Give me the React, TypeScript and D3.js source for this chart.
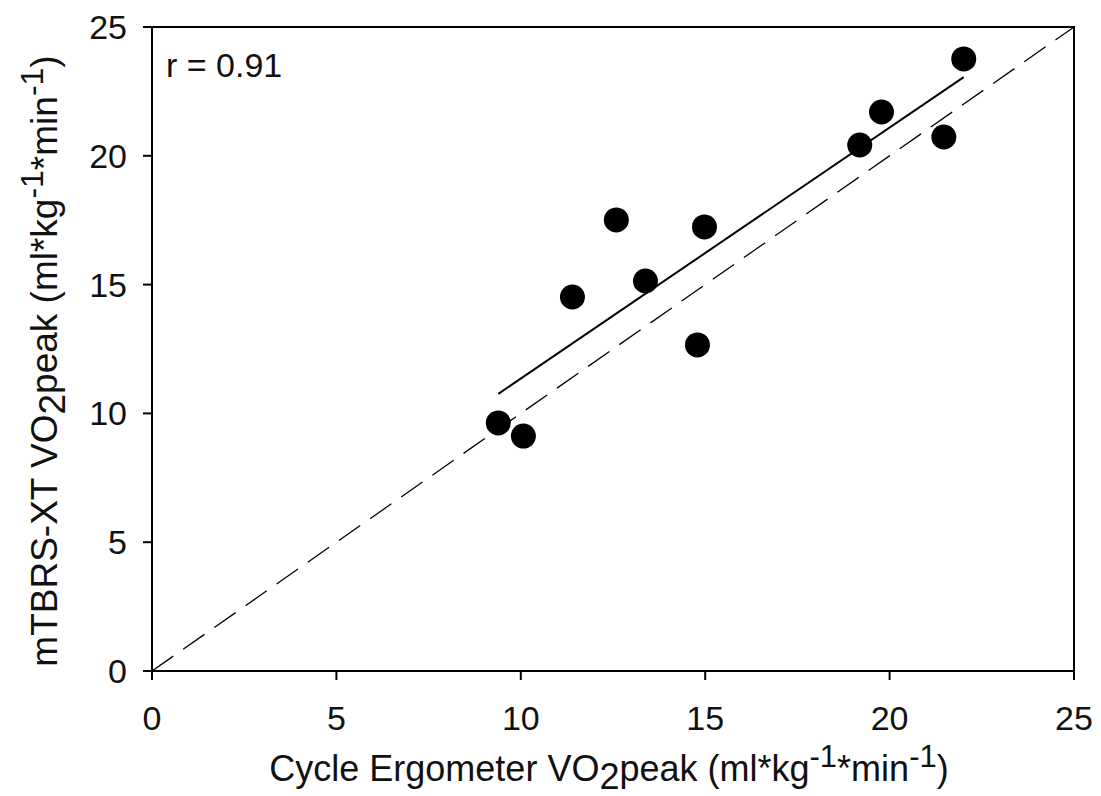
import React from "react";
import * as d3 from "d3";

const cycleVO2 = [9.39, 10.07, 11.4, 12.59, 13.38, 14.79, 14.98, 19.19, 19.78, 21.47, 22.01];
const mtbrsVO2 = [9.63, 9.12, 14.52, 17.51, 15.14, 12.66, 17.24, 20.42, 21.7, 20.73, 23.76];
const xTicks = [0, 5, 10, 15, 20, 25];
const yTicks = [0, 5, 10, 15, 20, 25];
const rLabel = "r = 0.91";

const W = 1101, H = 796;
const m = { left: 152, right: 1074, top: 27, bottom: 671 };
const FONT = "'Liberation Sans', Arial, sans-serif";

function Title({ prefix, sup }: { prefix: string; sup: number }) {
  return (
    <>
      {prefix}VO<tspan dy={8}>2</tspan><tspan dy={-8}>peak (ml*kg</tspan>
      <tspan dy={-14} fontSize={sup}>-1</tspan><tspan dy={14}>*min</tspan>
      <tspan dy={-14} fontSize={sup}>-1</tspan><tspan dy={14}>)</tspan>
    </>
  );
}

export default function App() {
  const x = d3.scaleLinear().domain([0, 25]).range([m.left, m.right]);
  const y = d3.scaleLinear().domain([0, 25]).range([m.bottom, m.top]);

  const mx = d3.mean(cycleVO2)!;
  const my = d3.mean(mtbrsVO2)!;
  let sxy = 0, sxx = 0;
  cycleVO2.forEach((v, i) => { sxy += (v - mx) * (mtbrsVO2[i] - my); sxx += (v - mx) ** 2; });
  const slope = sxy / sxx;
  const icpt = my - slope * mx;
  const [x0, x1] = d3.extent(cycleVO2) as [number, number];
  const line = d3.line<[number, number]>().x(d => x(d[0])).y(d => y(d[1]));

  return (
    <svg width={W} height={H} style={{ position: "absolute", left: 0, top: 0 }} fontFamily={FONT}>
      <rect width={W} height={H} fill="#fff" />
      <rect x={m.left} y={m.top} width={m.right - m.left} height={m.bottom - m.top} fill="none" stroke="#000" strokeWidth={2} />
      <path d={line([[0, 0], [25, 25]])!} stroke="#000" strokeWidth={1.3} strokeDasharray="26 12" fill="none" />
      <path d={line([[x0, icpt + slope * x0], [x1, icpt + slope * x1]])!} stroke="#000" strokeWidth={2} fill="none" />
      {cycleVO2.map((v, i) => (
        <circle key={i} cx={x(v)} cy={y(mtbrsVO2[i])} r={12.5} fill="#000" />
      ))}
      {xTicks.map(t => (
        <g key={"x" + t}>
          <line x1={x(t)} x2={x(t)} y1={m.bottom} y2={m.bottom + 9} stroke="#000" strokeWidth={2} />
          <text x={x(t)} y={730} textAnchor="middle" fontSize={34} fill="#111">{t}</text>
        </g>
      ))}
      {yTicks.map(t => (
        <g key={"y" + t}>
          <line x1={m.left - 9} x2={m.left} y1={y(t)} y2={y(t)} stroke="#000" strokeWidth={2} />
          <text x={127} y={y(t) + 12} textAnchor="end" fontSize={34} fill="#111">{t}</text>
        </g>
      ))}
      <text x={166} y={77} fontSize={34} fill="#111">{rLabel}</text>
      <text x={609} y={781} textAnchor="middle" fontSize={36} fill="#111">
        <Title prefix="Cycle Ergometer " sup={31} />
      </text>
      <text transform={`translate(57, 361) rotate(-90)`} textAnchor="middle" fontSize={37} fill="#111">
        <Title prefix="mTBRS-XT " sup={32} />
      </text>
    </svg>
  );
}
